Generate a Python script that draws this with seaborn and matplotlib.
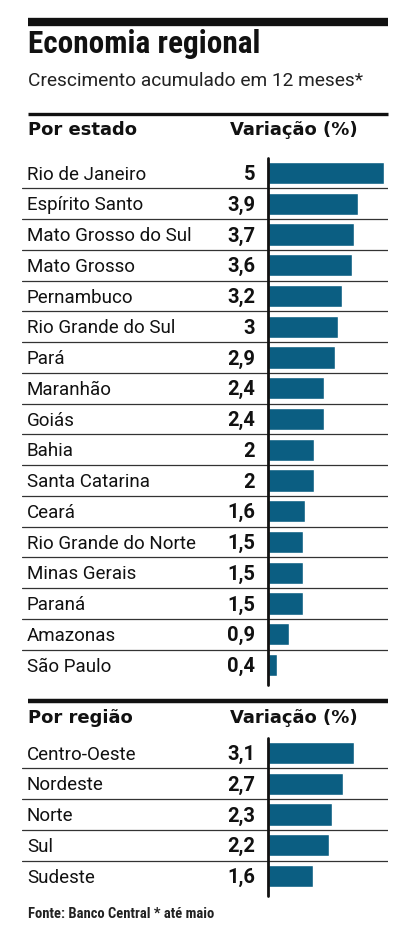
import matplotlib
matplotlib.use("Agg")
import matplotlib.pyplot as plt
import seaborn as sns
import pandas as pd
from matplotlib import font_manager

# dados
estados = ["Rio de Janeiro", "Espírito Santo", "Mato Grosso do Sul", "Mato Grosso",
           "Pernambuco", "Rio Grande do Sul", "Pará", "Maranhão", "Goiás", "Bahia",
           "Santa Catarina", "Ceará", "Rio Grande do Norte", "Minas Gerais", "Paraná",
           "Amazonas", "São Paulo"]
var_estados = [5, 3.9, 3.7, 3.6, 3.2, 3, 2.9, 2.4, 2.4, 2, 2, 1.6, 1.5, 1.5, 1.5, 0.9, 0.4]

regioes = ["Centro-Oeste", "Nordeste", "Norte", "Sul", "Sudeste"]
var_regioes = [3.1, 2.7, 2.3, 2.2, 1.6]

titulo = "Economia regional"
subtitulo = "Crescimento acumulado em 12 meses*"
fonte = "Fonte: Banco Central * até maio"

BAR = "#0b5e82"
W, H = 400, 934

sns.set_theme(style="white")
available = {f.name for f in font_manager.fontManager.ttflist}
COND = "DejaVu Sans"
for cand in ["Roboto Condensed", "Liberation Sans Narrow"]:
    if cand in available:
        COND = cand
        break
WIDE = "Roboto" if "Roboto" in available else "DejaVu Sans"
plt.rcParams["font.family"] = [WIDE, "DejaVu Sans"]
cond = [COND, "DejaVu Sans"]
wide = [WIDE, "DejaVu Sans"]
head = ["DejaVu Sans"]

fig = plt.figure(figsize=(W / 100, H / 100), dpi=100)


def fx(x):
    return x / W


def fy(y):
    return 1 - y / H


def rule(y, lw):
    fig.add_artist(plt.Line2D([fx(28), fx(388)], [fy(y), fy(y)], color="#111111",
                              linewidth=lw, solid_capstyle="butt"))


rule(22, 6)
fig.text(fx(28), fy(53), titulo, fontsize=22.5, fontweight="heavy", family=cond,
         color="#111111", va="baseline")
fig.text(fx(28), fy(86), subtitulo, fontsize=13.8, family=wide, color="#222222",
         va="baseline")
rule(113.5, 2.4)


def panel(cats, vals, top, pitch, px_per_unit, header, header_y):
    n = len(cats)
    left, right, zero = 22, 388, 268
    bottom = top + n * pitch
    ax = fig.add_axes([fx(left), fy(bottom), (right - left) / W, (bottom - top) / H])
    df = pd.DataFrame({"cat": cats, "val": vals})
    sns.barplot(data=df, y="cat", x="val", orient="h", color=BAR, width=0.72,
                saturation=1, ax=ax)
    ax.set_xlim(-(zero - left) / px_per_unit, (right - zero) / px_per_unit)
    ax.set_ylim(n - 0.5, -0.5)
    ax.axis("off")
    for i in range(n - 1):
        ax.axhline(i + 0.5, color="#333333", linewidth=0.9)
    ax.plot([0, 0], [-0.5, n - 0.35], color="#111111", linewidth=2, clip_on=False)
    tr = ax.get_yaxis_transform()
    for i, (c, v) in enumerate(zip(cats, vals)):
        ax.text((27 - left) / (right - left), i + 0.05, c, transform=tr, fontsize=13.5,
                family=wide, va="center", ha="left", color="#111111")
        lab = f"{v:g}".replace(".", ",")
        ax.text((255 - left) / (right - left), i + 0.05, lab, transform=tr, fontsize=14.5,
                family=wide, fontweight="bold", va="center", ha="right", color="#111111")
    fig.text(fx(28), fy(header_y), header, fontsize=13, fontweight="bold", family=head,
             va="baseline", color="#111111")
    fig.text(fx(358), fy(header_y), "Variação (%)", fontsize=13, fontweight="bold",
             family=head, va="baseline", ha="right", color="#111111")
    return ax


panel(estados, var_estados, 157.6, 30.75, 23.2, "Por estado", 135)
rule(701, 3.2)
panel(regioes, var_regioes, 737.6, 30.75, 27.9, "Por região", 723)

fig.text(fx(28), fy(918), fonte, fontsize=10.5, fontweight="bold", family=cond,
         va="baseline", color="#222222")

fig.savefig("out.png", dpi=100, facecolor="white")
